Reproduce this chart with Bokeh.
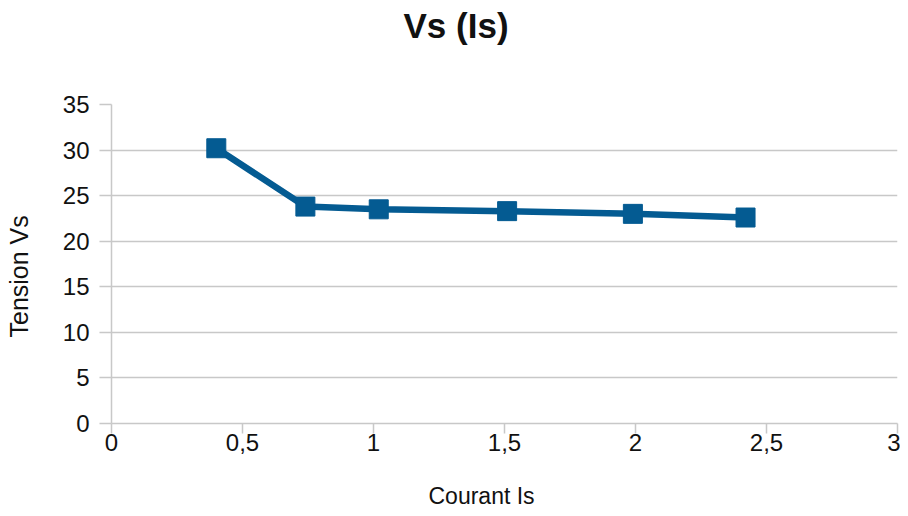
from bokeh.plotting import figure
from bokeh.embed import file_html
from bokeh.resources import INLINE
from bokeh.models import Range1d, FixedTicker, CustomJSTickFormatter, Title

courant = [0.40, 0.74, 1.02, 1.51, 1.99, 2.42]
tension = [30.2, 23.8, 23.5, 23.3, 23.0, 22.6]
x_ticks = [0, 0.5, 1, 1.5, 2, 2.5, 3]
y_ticks = [0, 5, 10, 15, 20, 25, 30, 35]
title_text = "Vs (Is)"
x_label = "Courant Is"
y_label = "Tension Vs"

FONT = "Liberation Sans"
COLOR = "#045b92"
TXT = "#111111"

p = figure(width=900, height=514, output_backend="svg", toolbar_location=None,
           x_range=Range1d(0, 3), y_range=Range1d(0, 35), title=None,
           min_border_left=111, min_border_right=3, min_border_top=104, min_border_bottom=91)
p.frame_width = 786
p.frame_height = 319

p.line(courant, tension, line_color=COLOR, line_width=6.5)
p.scatter(courant, tension, marker="square", size=19, fill_color=COLOR, line_color=COLOR)

p.outline_line_color = None
p.xgrid.grid_line_color = None
p.ygrid.grid_line_color = "#c8c8c8"
p.ygrid.grid_line_width = 1.5

for ax in (p.xaxis[0], p.yaxis[0]):
    ax.axis_line_color = "#c8c8c8"
    ax.axis_line_width = 1.5
    ax.major_tick_line_color = "#c8c8c8"
    ax.major_tick_line_width = 1.5
    ax.major_tick_in = 0
    ax.minor_tick_line_color = None
    ax.major_label_text_font = FONT
    ax.major_label_text_font_size = "24px"
    ax.major_label_text_color = TXT

p.xaxis.major_tick_out = 10
p.xaxis.major_label_standoff = 0
p.yaxis.major_tick_out = 12
p.yaxis.major_label_standoff = 10

p.xaxis.ticker = FixedTicker(ticks=x_ticks)
p.yaxis.ticker = FixedTicker(ticks=y_ticks)
p.xaxis.formatter = CustomJSTickFormatter(code="return String(tick).replace('.', ',');")


def spacer(size):
    return Title(text="\u00a0", text_font=FONT, text_font_size=size, standoff=0)


# above: spacer next to the frame, then the chart title
p.add_layout(spacer("52px"), "above")
p.add_layout(Title(text=title_text, align="left", offset=292, standoff=0,
                   text_font=FONT, text_font_size="35px", text_font_style="bold",
                   text_color=TXT), "above")
# below: spacer after the axis, then the x label
p.add_layout(spacer("22px"), "below")
p.add_layout(Title(text=x_label, align="left", offset=317, standoff=0,
                   text_font=FONT, text_font_size="23px", text_font_style="normal",
                   text_color=TXT), "below")
# left: spacer after the axis, then the y label
p.add_layout(spacer("22px"), "left")
p.add_layout(Title(text=y_label, align="left", offset=86, standoff=0,
                   text_font=FONT, text_font_size="25px", text_font_style="normal",
                   text_color=TXT), "left")

open("out.html", "w").write(file_html(p, INLINE))
